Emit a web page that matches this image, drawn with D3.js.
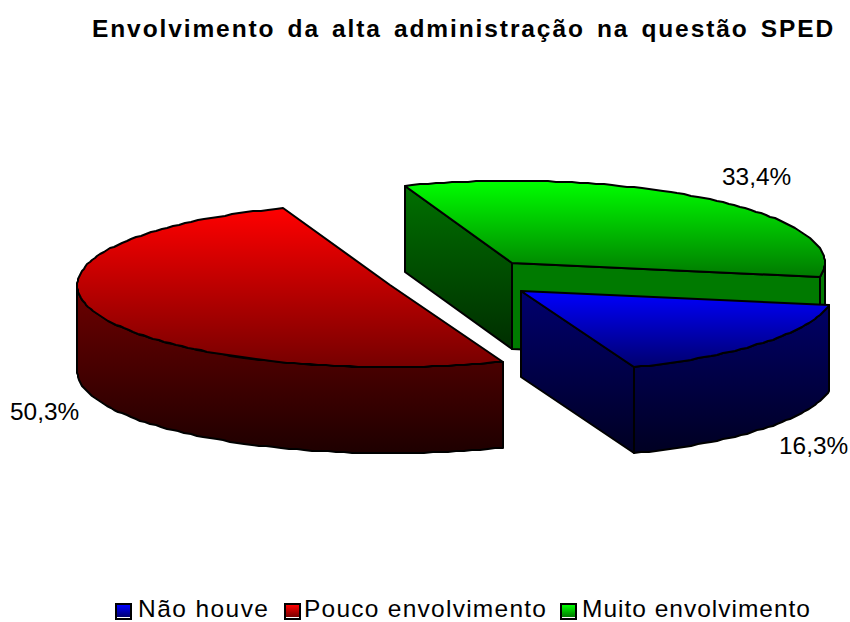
<!DOCTYPE html>
<html><head><meta charset="utf-8">
<script src="https://cdn.jsdelivr.net/npm/d3@7/dist/d3.min.js"></script>
<style>html,body{margin:0;padding:0;background:#fff}svg{display:block}text{font-family:"Liberation Sans",Arial,sans-serif;fill:#000}</style>
</head><body><svg id="c" width="850" height="622"></svg>
<script>
const title = "Envolvimento da alta administração na questão SPED";
const legendOrder = ["Não houve", "Pouco envolvimento", "Muito envolvimento"];
const sliceOrder = ["Muito envolvimento", "Não houve", "Pouco envolvimento"];
const sliceValues = [33.4, 16.3, 50.3];
const sliceLabels = ["33,4%", "16,3%", "50,3%"];
const labelAnchors = [[722, 185], [779, 454], [10, 420]];
const brightColors = ["#00ff00", "#0000ff", "#ff0000"];
const faceEndColors = ["#007a00", "#00006e", "#760000"];
const sideTopColors = ["#007000", "#00006e", "#6e0000"];
const sideEndColors = ["#002800", "#000022", "#1e0000"];
const legendTextX = [138, 304, 582];
const legendTextLen = [130, 242, 228];
const legendSwatchX = [116, 285, 561];
const sliceExplode = [0.242, 0.242, 0.248];

const W = 850, H = 622;
const svg = d3.select("#c");
const defs = svg.append("defs");
const cx = 463, cy = 278, rx = 313, ry = 82, depth = 86;
const X = d3.scaleLinear().domain([-1, 1]).range([cx - rx, cx + rx]);
const Y = d3.scaleLinear().domain([-1, 1]).range([cy - ry, cy + ry]);
const line = d3.line();

const pie = d3.pie().sort(null).value(d => d)
  .startAngle(-20 * Math.PI / 180).endAngle(340 * Math.PI / 180);
const arcs = pie(sliceValues);

function geom(a, i) {
  const mid = (a.startAngle + a.endAngle) / 2;
  const ox = sliceExplode[i] * Math.sin(mid), oy = -sliceExplode[i] * Math.cos(mid);
  const pt = (t, r = 1, dz = 0) => [
    Math.round(X(ox + r * Math.sin(t))),
    Math.round(Y(oy - r * Math.cos(t))) + dz
  ];
  const arc = (t0, t1, dz = 0) => {
    const n = Math.max(2, Math.ceil((t1 - t0) / (1.5 * Math.PI / 180)));
    return d3.range(n + 1).map(k => pt(t0 + (t1 - t0) * k / n, 1, dz));
  };
  return { pt, arc };
}

function grad(id, y0, y1, c0, c1) {
  const g = defs.append("linearGradient").attr("id", id)
    .attr("gradientUnits", "userSpaceOnUse")
    .attr("x1", 0).attr("x2", 0).attr("y1", y0).attr("y2", y1);
  g.append("stop").attr("offset", 0).attr("stop-color", c0);
  g.append("stop").attr("offset", 1).attr("stop-color", c1);
  return `url(#${id})`;
}

const edge = sel => sel.attr("stroke", "#000").attr("stroke-width", 2)
  .attr("stroke-linejoin", "round");

// painter's order: back (green), left (red), front (blue)
[0, 2, 1].forEach(i => {
  const a = arcs[i], g = geom(a, i), s = a.startAngle, e = a.endAngle;
  const layer = svg.append("g").attr("class", "slice-" + i);
  const c = g.pt(0, 0);
  const top = [c, ...g.arc(s, e)];
  const ys = top.map(p => p[1]);
  const y0 = d3.min(ys), y1 = d3.max(ys);

  const r0 = Math.max(s, Math.PI / 2), r1 = Math.min(e, 1.5 * Math.PI);
  const rimUpper = r1 > r0 ? g.arc(r0, r1) : [];
  const wallTops = [...rimUpper];
  if (Math.sin(s) < 0) wallTops.push(g.pt(s), c);
  if (Math.sin(e) > 0) wallTops.push(c, g.pt(e));
  const sideFill = grad("side" + i, d3.min(wallTops, p => p[1]), y1 + depth, sideTopColors[i], sideEndColors[i]);

  const wall = (p, q, fill) => edge(layer.append("path"))
    .attr("fill", fill)
    .attr("d", line([p, q, [q[0], q[1] + depth], [p[0], p[1] + depth]]) + "Z");

  // flat cut walls
  if (Math.sin(s) < 0) wall(g.pt(s), c, sideFill);
  if (Math.sin(e) > 0) wall(c, g.pt(e), i === 0 ? faceEndColors[0] : sideFill);
  // outer rim wall: the part of the arc facing the viewer
  if (r1 > r0) {
    const lower = g.arc(r0, r1, depth).reverse();
    edge(layer.append("path")).attr("fill", i === 0 ? faceEndColors[0] : sideFill)
      .attr("d", line([...rimUpper, ...lower]) + "Z");
  }
  // top face
  edge(layer.append("path"))
    .attr("fill", grad("top" + i, y0, y1, brightColors[i], faceEndColors[i]))
    .attr("d", line(top) + "Z");
});

// percentage labels
svg.append("g").selectAll("text").data(sliceLabels).join("text")
  .attr("x", (d, i) => labelAnchors[i][0]).attr("y", (d, i) => labelAnchors[i][1])
  .attr("font-size", 24.4).text(d => d);

// title
svg.append("text").attr("x", 92).attr("y", 37)
  .attr("font-size", 24.5).attr("font-weight", "bold")
  .style("letter-spacing", "1.9px").style("word-spacing", "3.4px").text(title);

// legend
const legend = svg.append("g");
legendOrder.forEach((name, i) => {
  const k = sliceOrder.indexOf(name);
  legend.append("rect").attr("x", legendSwatchX[i]).attr("y", 604).attr("width", 15).attr("height", 15)
    .attr("fill", "#fff").attr("stroke", "#000").attr("stroke-width", 2);
  legend.append("rect").attr("x", legendSwatchX[i] + 1).attr("y", 605).attr("width", 13).attr("height", 12)
    .attr("fill", grad("leg" + i, 605, 617, brightColors[k], faceEndColors[k]));
  legend.append("text").attr("x", legendTextX[i]).attr("y", 617)
    .attr("font-size", 24.5).attr("textLength", legendTextLen[i]).attr("lengthAdjust", "spacing").text(name);
});
</script></body></html>
